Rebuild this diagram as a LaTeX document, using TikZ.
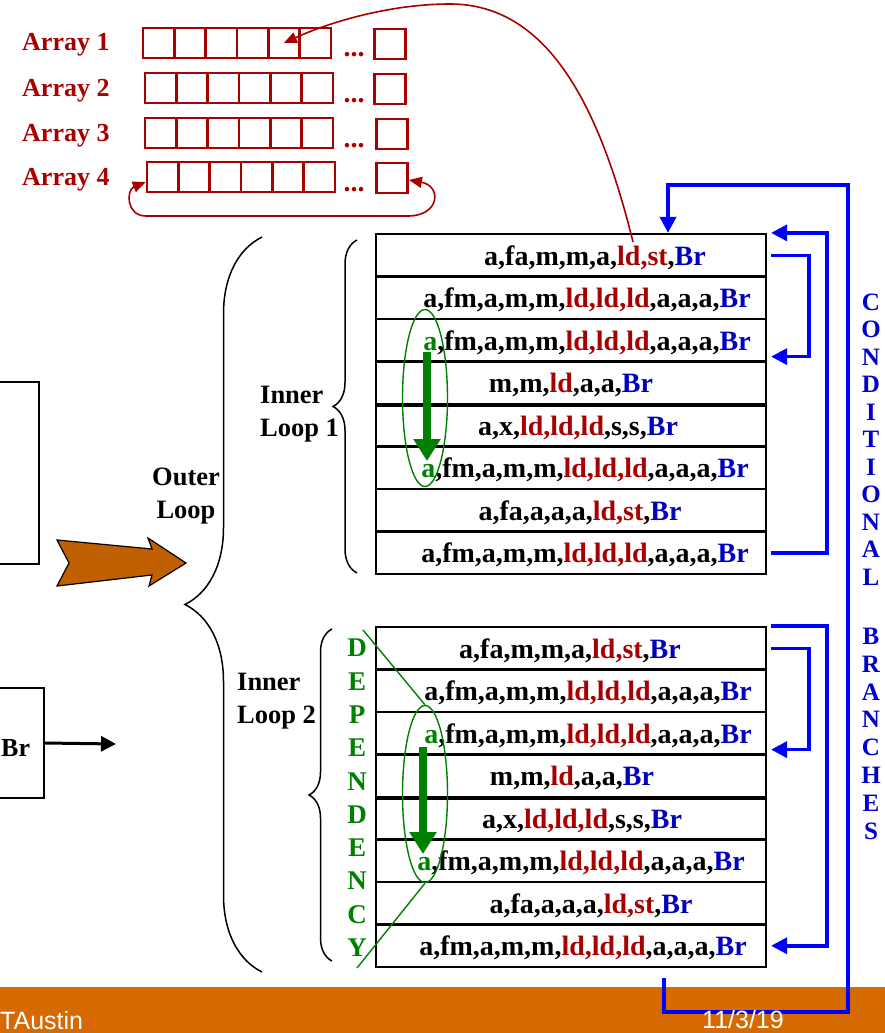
\documentclass[tikz,border=0pt]{standalone}
\usepackage{fontspec}
\setmainfont{Liberation Serif}
\setsansfont{Liberation Sans}
\usepackage{xcolor}
\usetikzlibrary{calc,arrows.meta,decorations.pathreplacing,positioning,shapes.geometric}
\definecolor{arrRed}{RGB}{168,0,0}
\definecolor{brBlue}{RGB}{0,0,190}
\definecolor{lineBlue}{RGB}{0,0,255}
\definecolor{condBlue}{RGB}{0,0,204}
\definecolor{depGreen}{RGB}{0,128,0}
\definecolor{barOrange}{RGB}{214,106,0}
\definecolor{fatOrange}{RGB}{192,96,0}
\newcommand{\ldop}[1]{\textcolor{arrRed}{#1}}
\newcommand{\brop}{\textcolor{brBlue}{Br}}
\newcommand{\depop}{\textcolor{depGreen}{a}}

\begin{document}
\begin{tikzpicture}[x=1pt,y=-1pt,
    font=\fontsize{26}{30}\selectfont\bfseries,
    cell/.style={draw=arrRed, line width=2.6pt, minimum width=31.3pt, minimum height=30pt, inner sep=0pt},
    arrlabel/.style={text=arrRed, anchor=base west, inner sep=0pt},
    row/.style={draw, line width=2.2pt, minimum width=390pt, minimum height=42.5pt, inner sep=0pt},
    code/.style={anchor=base, inner sep=0pt, font=\fontsize{28}{30}\selectfont\bfseries},
    looplbl/.style={inner sep=0pt, font=\fontsize{26.5}{33}\selectfont\bfseries},
    loopbr/.style={decorate, decoration={brace, amplitude=#1}, line width=1.5pt},
    redlink/.style={arrRed, line width=1.6pt},
    bluejump/.style={draw=lineBlue, line width=3.5pt, -{Triangle[length=16pt,width=16pt]}},
    depring/.style={draw=depGreen, ellipse, line width=1.4pt, minimum width=45pt, minimum height=177pt, inner sep=0pt},
    depflow/.style={depGreen, line width=8pt, -{Triangle[length=22pt,width=26pt]}},
    deplink/.style={depGreen, line width=1.4pt},
    vletter/.style={inner sep=0pt, font=\fontsize{25}{30}\selectfont\bfseries}]
  \useasboundingbox (0,0) rectangle (885,1033);
  \def\rowh{42.5}

  % Arrays
  \foreach \k/\x/\y/\zx in {1/143/43/390,2/145/88/390,3/145/133/392,4/147/177/392}{
    \node[arrlabel] (lab\k) at (22,\y+8) {Array \k};
    \foreach \i in {1,...,6}
      \node[cell] (a\k-\i) at (\x+31.3*\i-15.6,\y) {};
    \node[arrlabel, anchor=base, font=\fontsize{28}{30}\selectfont\bfseries] (dots\k) at (354,\y+14) {...};
    \node[cell] (a\k-z) at (\zx,\y+1) {};
  }

  % Previous blocks (cut off at the left)
  \node[draw, line width=2.8pt, minimum width=100pt, minimum height=182pt] (prev1) at (-11,473) {};
  \node[draw, line width=2.2pt, minimum width=100pt, minimum height=110pt] (prev2) at (-6,743) {};
  \node[anchor=base west, inner sep=0pt] (prevbr) at (1,756) {Br};
  \coordinate (brout) at (116,744);
  \draw[line width=3pt, -{Triangle[length=15pt,width=15pt]}] (prev2.east) -- (brout);

  % Fat arrow
  \draw[fill=fatOrange, line width=1.2pt] (57,540) -- (152,549) -- (148,538) -- (186,563)
    -- (149,586) -- (152,575) -- (57,586) -- (69,563) -- cycle;

  % Loops and braces
  \draw[loopbr=77pt] (262,972) -- (262,237);
  \node[looplbl, align=center] (outerlbl) at (186,496) {Outer\\Loop};
  \draw[loopbr=24pt] (357,573) -- (357,240);
  \node[looplbl, align=left, anchor=west] (inner1lbl) at (260,414) {Inner\\Loop 1};
  \draw[loopbr=23pt] (332,961) -- (332,629);
  \node[looplbl, align=left, anchor=west] (inner2lbl) at (237,701) {Inner\\Loop 2};

  % Inner loop 1
  \foreach \i in {1,...,8}
    \node[row] (p\i) at (571,234+\rowh*\i-\rowh/2) {};
  \draw[line width=3.2pt] (p4.south west) -- (p4.south east);
  \foreach \i/\dx/\txt in {1/24/{a,fa,m,m,a,\ldop{ld,st},\brop},
      2/16/{a,fm,a,m,m,\ldop{ld,ld,ld},a,a,a,\brop},
      3/16/{\depop,fm,a,m,m,\ldop{ld,ld,ld},a,a,a,\brop},
      4/0/{m,m,\ldop{ld},a,a,\brop},
      5/7/{a,x,\ldop{ld,ld,ld},s,s,\brop},
      6/14/{\depop,fm,a,m,m,\ldop{ld,ld,ld},a,a,a,\brop},
      7/9/{a,fa,a,a,a,\ldop{ld,st},\brop},
      8/14/{a,fm,a,m,m,\ldop{ld,ld,ld},a,a,a,\brop}}
    \node[code] (c\i) at ($(p\i.center)+(\dx,10)$) {\txt};

  % Inner loop 2
  \foreach \i in {1,...,8}
    \node[row] (q\i) at (571,627+\rowh*\i-\rowh/2) {};
  \draw[line width=3.2pt] (q4.south west) -- (q4.south east);
  \foreach \i/\dx/\txt in {1/-1/{a,fa,m,m,a,\ldop{ld,st},\brop},
      2/17/{a,fm,a,m,m,\ldop{ld,ld,ld},a,a,a,\brop},
      3/17/{\depop,fm,a,m,m,\ldop{ld,ld,ld},a,a,a,\brop},
      4/1/{m,m,\ldop{ld},a,a,\brop},
      5/11/{a,x,\ldop{ld,ld,ld},s,s,\brop},
      6/10/{\depop,fm,a,m,m,\ldop{ld,ld,ld},a,a,a,\brop},
      7/20/{a,fa,a,a,a,\ldop{ld,st},\brop},
      8/12/{a,fm,a,m,m,\ldop{ld,ld,ld},a,a,a,\brop}}
    \node[code] (d\i) at ($(q\i.center)+(\dx,10)$) {\txt};

  % Memory access from ld,st to Array 1
  \coordinate (ldsrc) at (633,242);
  \draw[redlink, -{Triangle[length=13pt,width=11pt]}] (ldsrc) .. controls (598,100) and (545,4) .. (450,4)
    .. controls (390,4) and (330,22) .. (a1-5.center);
  % Array 4 wraps around
  \draw[redlink, {Triangle[length=13pt,width=11pt]}-{Triangle[length=13pt,width=11pt]}]
    ([yshift=-5pt]a4-1.west) .. controls (126,190) and (126,216) .. (146,216) -- (408,216)
    .. controls (440,216) and (442,186) .. ([yshift=-2pt]a4-z.east);

  % Dependency
  \node[depring] (ring1) at (425,398) {};
  \coordinate (dep1a) at (427,352);
  \coordinate (dep1b) at (427,461);
  \draw[depflow] (dep1a) -- (dep1b);
  \node[depring] (ring2) at (425,794) {};
  \coordinate (dep2a) at (423,747);
  \coordinate (dep2b) at (423,854);
  \draw[depflow] (dep2a) -- (dep2b);
  \coordinate (vtop) at (363,630);
  \coordinate (vbot) at (357,968);
  \draw[deplink] (vtop) -- (ring2.north);
  \draw[deplink] (ring2.south) -- (vbot);
  \foreach \ch [count=\i] in {D,E,P,E,N,D,E,N,C,Y}
    \node[vletter, text=depGreen, font=\fontsize{27}{30}\selectfont\bfseries] (dep\i) at (357,648+33.3*\i-33.3) {\ch};

  % Footer
  \fill[barOrange] (0,987) rectangle (885,1033);

  % Conditional branches
  \draw[bluejump] ([xshift=4pt]p8.east) -- ++(56,0) |- ([xshift=4pt]p1.north east);
  \draw[bluejump] ([xshift=4pt]p1.east) -- ++(38,0) |- ([xshift=4pt,yshift=6pt]p3.south east);
  \draw[bluejump] ([xshift=4pt]q1.north east) -- ++(56,0) |- ([xshift=4pt]q8.east);
  \draw[bluejump] ([xshift=4pt]q1.east) -- ++(38,0) |- ([xshift=4pt,yshift=6pt]q3.south east);
  \coordinate (exitpt) at (664,978);
  \draw[bluejump] (exitpt) |- (848,1012) |- (668,185) -- ([xshift=97pt]p1.north);
  \foreach \ch [count=\i] in {C,O,N,D,I,T,I,O,N,A,L}
    \node[vletter, text=condBlue] (cond\i) at (871,302+27.5*\i-27.5) {\ch};
  \foreach \ch [count=\i] in {B,R,A,N,C,H,E,S}
    \node[vletter, text=condBlue] (brn\i) at (871,636+27.9*\i-27.9) {\ch};

  \node[anchor=base west, inner sep=0pt, text=white, font=\sffamily\fontsize{25}{30}\selectfont] (place) at (0,1029) {TAustin};
  \node[anchor=base west, inner sep=0pt, text=white, font=\sffamily\fontsize{25}{30}\selectfont] (date) at (702,1028) {11/3/19};
\end{tikzpicture}
\end{document}
